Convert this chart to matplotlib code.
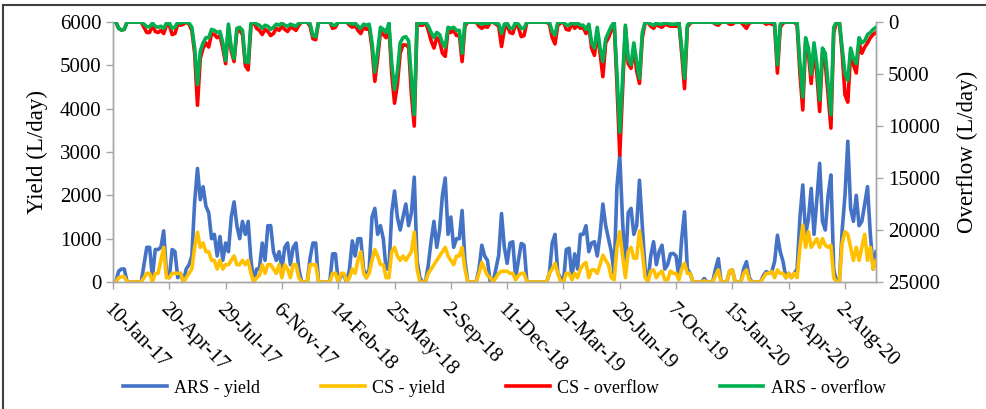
import matplotlib.pyplot as plt
from matplotlib.lines import Line2D
import pandas as pd

# daily yield / overflow, sampled every 5 days from 10-Jan-2017
start = pd.Timestamp("2017-01-10")
step_days = 5

ars_yield = [
    0, 0, 250, 300, 300, 0, 0, 0, 0, 0, 0, 400, 800, 800, 100, 750, 750, 800, 1180, 200,
    100, 750, 700, 100, 200, 0, 300, 400, 600, 1850, 2620, 1900, 2200, 1750, 1600, 1000, 1100, 600, 1050, 500,
    900, 700, 1500, 1850, 1300, 1000, 1400, 1100, 1400, 500, 0, 300, 300, 900, 500, 1300, 1300, 700, 500, 700,
    300, 800, 900, 400, 800, 900, 300, 0, 0, 0, 550, 900, 900, 0, 0, 0, 0, 0, 650, 650,
    0, 150, 150, 0, 300, 950, 600, 1000, 1000, 300, 100, 300, 1500, 1700, 1100, 1300, 1000, 300, 300, 1600,
    2100, 1500, 1200, 1500, 1800, 1300, 1600, 2420, 500, 100, 0, 0, 400, 950, 1400, 800, 1200, 2000, 2400, 1100,
    1500, 800, 1000, 1000, 1650, 500, 0, 0, 0, 0, 300, 850, 600, 500, 0, 0, 300, 620, 1580, 800,
    430, 900, 930, 100, 500, 890, 850, 0, 0, 0, 0, 0, 0, 0, 0, 200, 900, 1100, 200, 100,
    0, 750, 780, 100, 650, 300, 1100, 1100, 1300, 700, 900, 930, 600, 1100, 1800, 1300, 1000, 700, 200, 2200,
    2930, 1400, 300, 1600, 1700, 1100, 1300, 2350, 1300, 300, 0, 600, 930, 400, 700, 850, 300, 400, 650, 660,
    600, 100, 1000, 1620, 300, 200, 0, 0, 0, 0, 80, 0, 0, 0, 300, 540, 0, 0, 0, 250,
    280, 0, 0, 0, 300, 470, 100, 0, 0, 0, 0, 150, 240, 200, 240, 470, 1080, 700, 470, 100,
    200, 100, 200, 300, 1500, 2240, 1100, 1450, 2160, 1100, 1900, 2740, 1400, 1200, 2000, 2470, 300, 0, 0, 1200,
    2000, 3250, 1700, 1400, 2000, 1300, 1400, 1800, 2200, 1100, 300, 700,
]

cs_yield = [
    0, 0, 100, 120, 120, 0, 0, 0, 0, 0, 0, 100, 200, 200, 0, 200, 200, 500, 800, 100,
    100, 200, 200, 200, 200, 0, 100, 200, 300, 800, 1150, 800, 900, 700, 700, 500, 500, 300, 500, 300,
    400, 400, 500, 600, 400, 400, 500, 400, 500, 200, 0, 100, 150, 400, 200, 400, 400, 300, 200, 400,
    100, 400, 300, 100, 400, 400, 100, 0, 0, 0, 400, 400, 400, 0, 0, 0, 0, 0, 200, 200,
    0, 200, 200, 0, 100, 300, 200, 500, 700, 200, 100, 200, 500, 750, 600, 400, 400, 100, 100, 700,
    800, 600, 500, 600, 500, 600, 700, 1150, 300, 0, 0, 0, 200, 300, 400, 500, 600, 700, 800, 600,
    500, 400, 600, 600, 800, 300, 0, 0, 0, 0, 200, 450, 300, 150, 100, 0, 100, 200, 250, 250,
    250, 200, 200, 50, 150, 200, 200, 0, 0, 0, 0, 0, 0, 0, 0, 200, 300, 430, 200, 0,
    0, 200, 200, 50, 200, 100, 300, 400, 450, 100, 280, 280, 200, 400, 620, 500, 400, 100, 50, 800,
    1160, 600, 100, 700, 800, 550, 550, 1180, 700, 100, 0, 250, 280, 100, 200, 250, 50, 50, 250, 200,
    200, 50, 300, 430, 200, 200, 0, 0, 0, 0, 30, 0, 0, 0, 150, 280, 0, 0, 0, 250,
    280, 0, 0, 0, 200, 280, 50, 0, 0, 0, 0, 100, 200, 200, 240, 100, 280, 200, 200, 100,
    200, 100, 200, 100, 800, 1310, 800, 1160, 800, 900, 1000, 800, 1000, 850, 800, 850, 100, 0, 0, 900,
    1160, 1100, 800, 500, 800, 500, 800, 1100, 500, 800, 300, 500,
]

cs_overflow = [
    0, 0, 600, 770, 700, 0, 0, 0, 0, 0, 0, 500, 1000, 1000, 300, 900, 1000, 800, 1100, 300,
    300, 1200, 1100, 200, 300, 200, 0, 200, 800, 3000, 8000, 3500, 2500, 2000, 2400, 1100, 1200, 1500, 1300, 2500,
    4000, 500, 2800, 3800, 900, 800, 1200, 4200, 4600, 300, 0, 600, 800, 1200, 700, 900, 1300, 1100, 600, 800,
    400, 700, 900, 500, 600, 800, 300, 0, 0, 0, 400, 1600, 1700, 0, 0, 0, 0, 0, 600, 500,
    0, 0, 0, 0, 300, 500, 300, 800, 1100, 500, 700, 500, 2500, 5700, 3500, 900, 1200, 1500, 400, 5000,
    7800, 6000, 3000, 2200, 2200, 2400, 7000, 10000, 0, 300, 300, 0, 800, 1800, 2500, 1500, 1800, 3000, 3300, 800,
    1000, 800, 1300, 1200, 3800, 400, 0, 0, 0, 0, 400, 600, 400, 500, 0, 0, 200, 400, 2350, 700,
    300, 1000, 1100, 200, 500, 1400, 1300, 0, 0, 0, 0, 0, 0, 0, 0, 200, 1500, 2100, 300, 100,
    0, 700, 770, 100, 600, 300, 600, 500, 1100, 300, 2500, 3200, 1000, 3000, 5250, 2000, 1500, 800, 0, 6000,
    12800, 6500, 500, 4000, 4450, 2500, 4700, 5900, 1500, 100, 0, 400, 600, 200, 400, 500, 200, 300, 400, 400,
    400, 0, 3000, 6400, 500, 100, 0, 0, 0, 0, 0, 0, 0, 0, 200, 300, 0, 0, 0, 200,
    200, 0, 0, 0, 300, 600, 100, 0, 0, 0, 0, 0, 200, 100, 200, 300, 4900, 500, 100, 0,
    0, 0, 0, 300, 5000, 8450, 2000, 3000, 5900, 2500, 5000, 8600, 3000, 4000, 7000, 10200, 1000, 0, 0, 3000,
    7000, 7700, 3000, 4100, 4900, 2000, 3000, 2400, 2000, 1500, 1200, 1000,
]

ars_overflow = [
    0, 0, 600, 770, 700, 0, 0, 0, 0, 0, 0, 200, 450, 450, 100, 400, 500, 400, 600, 100,
    100, 600, 500, 0, 100, 0, 0, 100, 500, 2500, 6000, 2800, 2000, 1500, 1500, 700, 800, 1000, 900, 2000,
    3700, 200, 2500, 3500, 600, 500, 800, 3800, 3900, 100, 0, 200, 300, 600, 300, 400, 700, 500, 200, 300,
    100, 300, 400, 200, 300, 400, 100, 0, 0, 0, 150, 1300, 1400, 0, 0, 0, 0, 0, 300, 300,
    0, 0, 0, 0, 100, 200, 100, 400, 600, 200, 300, 200, 2000, 4800, 2800, 500, 700, 1000, 100, 4000,
    6500, 4800, 2000, 1500, 1400, 1800, 5500, 8900, 0, 100, 100, 0, 400, 1000, 1500, 1000, 1200, 2000, 2400, 500,
    600, 500, 800, 800, 3000, 100, 0, 0, 0, 0, 100, 200, 100, 150, 0, 0, 100, 200, 1100, 200,
    100, 600, 600, 0, 200, 600, 600, 0, 0, 0, 0, 0, 0, 0, 0, 0, 900, 1250, 0, 0,
    0, 300, 300, 0, 200, 100, 300, 300, 700, 200, 2000, 2500, 500, 2500, 3800, 1600, 1000, 400, 0, 5000,
    10600, 5500, 300, 3500, 4100, 2000, 3800, 5400, 1000, 0, 0, 200, 300, 100, 200, 200, 100, 100, 200, 200,
    200, 0, 2500, 5400, 300, 0, 0, 0, 0, 0, 0, 0, 0, 0, 100, 100, 0, 0, 0, 0,
    0, 0, 0, 0, 0, 100, 0, 0, 0, 0, 0, 0, 0, 0, 0, 100, 4100, 200, 0, 0,
    0, 0, 0, 100, 4000, 7200, 1500, 2500, 5000, 2000, 4000, 7500, 2500, 3000, 6000, 8900, 500, 0, 0, 2500,
    5000, 5600, 2500, 3500, 4000, 1500, 2000, 1800, 1200, 1000, 700, 500,
]

dates = pd.date_range(start, periods=len(ars_yield), freq=f"{step_days}D")
tick_dates = pd.date_range(start, periods=14, freq="100D")

plt.rcParams["font.family"] = "Liberation Serif"
spine_col = "#a6a6a6"
lw = 2.6

fig = plt.figure(figsize=(9.87, 4.09), dpi=100)
ax = fig.add_axes([0.1145, 0.3105, 0.773, 0.6355])
ax2 = ax.twinx()

l1, = ax.plot(dates, ars_yield, color="#4472c4", lw=lw, label="ARS - yield")
l2, = ax.plot(dates, cs_yield, color="#ffc000", lw=lw, label="CS - yield")
l3, = ax2.plot(dates, cs_overflow, color="#ff0000", lw=lw, label="CS - overflow")
l4, = ax2.plot(dates, ars_overflow, color="#00b050", lw=lw, label="ARS - overflow")

ax.set_ylim(0, 6000)
ax.set_yticks(range(0, 6001, 1000))
ax2.set_ylim(25000, 0)
ax2.set_yticks(range(0, 25001, 5000))
ax.set_xlim(start, start + pd.Timedelta(days=1355))

ax.set_xticks(tick_dates)
ax.set_xticklabels([f"{d.day}-{d.strftime('%b-%y')}" for d in tick_dates],
                   rotation=-45, ha="left", va="top", rotation_mode="anchor")

for a in (ax, ax2):
    a.spines["top"].set_visible(False)
    for s in ("left", "right", "bottom"):
        a.spines[s].set_color(spine_col)
        a.spines[s].set_linewidth(1.0)
    a.tick_params(axis="both", colors=spine_col, labelcolor="black",
                  labelsize=15, length=5, width=1.0, direction="out")
ax.tick_params(axis="x", pad=8)

ax.set_ylabel("Yield (L/day)", fontsize=16.5, labelpad=8)
ax2.set_ylabel("Overflow (L/day)", fontsize=16.5, labelpad=12)

fig.legend(handles=[l1, l2, l3, l4], loc="center", bbox_to_anchor=(0.511, 0.051),
           ncol=4, frameon=False, fontsize=13, handlelength=2.4,
           columnspacing=3.4, handletextpad=0.4)

# outer frame
fig.add_artist(Line2D([3 / 987, 1], [1 - 5 / 409, 1 - 5 / 409], transform=fig.transFigure,
                      color="#404040", lw=1.5))
fig.add_artist(Line2D([3 / 987, 3 / 987], [0, 1 - 5 / 409], transform=fig.transFigure,
                      color="#404040", lw=1.5))

fig.savefig("out.png", dpi=100)
